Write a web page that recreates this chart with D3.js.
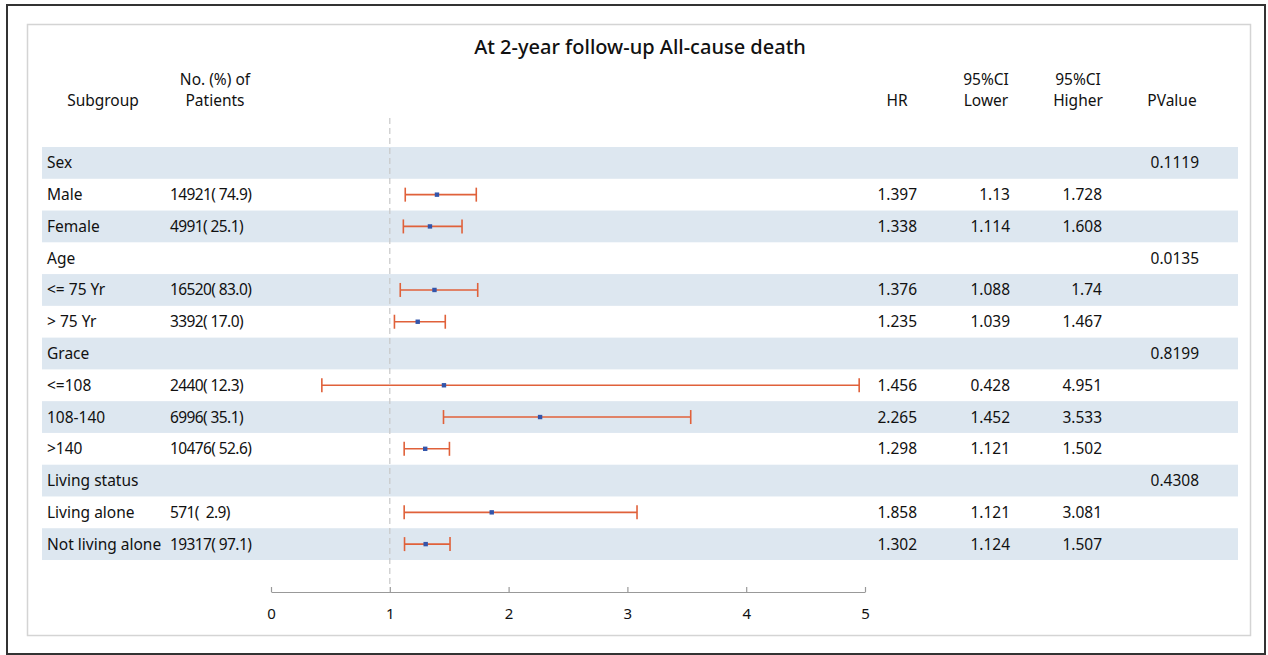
<!DOCTYPE html>
<html><head><meta charset="utf-8">
<script src="https://cdn.jsdelivr.net/npm/d3@7"></script>
<style>body{margin:0;background:#fff}svg text{font-family:"Noto Sans","Open Sans",sans-serif;fill:#111}</style>
</head><body><svg id="c" width="1268" height="655"></svg>
<script>
const title = "At 2-year follow-up All-cause death";
const subgroups = ["Sex","Male","Female","Age","<= 75 Yr","> 75 Yr","Grace","<=108","108-140",">140","Living status","Living alone","Not living alone"];
const patients = ["","14921( 74.9)","4991( 25.1)","","16520( 83.0)","3392( 17.0)","","2440( 12.3)","6996( 35.1)","10476( 52.6)","","571(  2.9)","19317( 97.1)"];
const hr =    [null,1.397,1.338,null,1.376,1.235,null,1.456,2.265,1.298,null,1.858,1.302];
const lower = [null,1.13,1.114,null,1.088,1.039,null,0.428,1.452,1.121,null,1.121,1.124];
const higher =[null,1.728,1.608,null,1.74,1.467,null,4.951,3.533,1.502,null,3.081,1.507];
const pvalues = ["0.1119","","","0.0135","","","0.8199","","","","0.4308","",""];
const xTicks = [0,1,2,3,4,5];

const svg = d3.select("#c");
// frames
svg.append("rect").attr("x",7).attr("y",5).attr("width",1258).attr("height",649).attr("fill","none").attr("stroke","#333").attr("stroke-width",2);
svg.append("rect").attr("x",27.5).attr("y",24.5).attr("width",1223).attr("height",611).attr("fill","none").attr("stroke","#d4d4d4").attr("stroke-width",1.5);

const x = d3.scaleLinear().domain([0,5]).range([271,865]);
const y = d3.scaleBand().domain(d3.range(subgroups.length)).range([147,560]);

// bands
svg.append("g").selectAll("rect").data(subgroups).join("rect")
  .attr("x",42).attr("width",1196).attr("y",(d,i)=>y(i)).attr("height",y.bandwidth())
  .attr("fill",(d,i)=>i%2===0?"#dde7f0":"none");

// title
svg.append("text").attr("x",640).attr("y",54).attr("text-anchor","middle").attr("font-size",20).attr("font-weight",500).text(title);

// headers
const hdr = (xx, lines, anchor) => {
  const t = svg.append("text").attr("x",xx).attr("text-anchor",anchor||"middle").attr("font-size",15.5);
  lines.forEach((l,k)=>t.append("tspan").attr("x",xx).attr("y",105.5-(lines.length-1-k)*20.5).text(l));
};
hdr(103,["Subgroup"]);
hdr(215,["No. (%) of","Patients"]);
hdr(897,["HR"]);
hdr(986,["95%CI","Lower"]);
hdr(1078,["95%CI","Higher"]);
hdr(1172,["PValue"]);

// reference line
svg.append("line").attr("x1",x(1)).attr("x2",x(1)).attr("y1",118).attr("y2",586)
  .attr("stroke","#c8c8c8").attr("stroke-width",1.2).attr("stroke-dasharray","6,4");

const cy = i => y(i)+y.bandwidth()/2;
const rows = svg.append("g");
subgroups.forEach((s,i)=>{
  rows.append("text").attr("x",47).attr("y",cy(i)+5.5).attr("font-size",15.5).text(s);
  rows.append("text").attr("x",170).attr("y",cy(i)+5.5).attr("font-size",15.5).attr("letter-spacing",-0.6).style("white-space","pre").text(patients[i]);
  if(hr[i]!=null){
    rows.append("text").attr("x",917).attr("y",cy(i)+5.5).attr("text-anchor","end").attr("font-size",15.5).text(hr[i]);
    rows.append("text").attr("x",1010).attr("y",cy(i)+5.5).attr("text-anchor","end").attr("font-size",15.5).text(lower[i]);
    rows.append("text").attr("x",1102).attr("y",cy(i)+5.5).attr("text-anchor","end").attr("font-size",15.5).text(higher[i]);
  }
  if(pvalues[i]) rows.append("text").attr("x",1199).attr("y",cy(i)+5.5).attr("text-anchor","end").attr("font-size",15.5).text(pvalues[i]);
});

// CI
const ci = svg.append("g").attr("stroke","#e0613a").attr("stroke-width",1.6);
subgroups.forEach((s,i)=>{
  if(hr[i]==null) return;
  const yy = cy(i);
  ci.append("line").attr("x1",x(lower[i])).attr("x2",x(higher[i])).attr("y1",yy).attr("y2",yy);
  ci.append("line").attr("x1",x(lower[i])).attr("x2",x(lower[i])).attr("y1",yy-7).attr("y2",yy+7);
  ci.append("line").attr("x1",x(higher[i])).attr("x2",x(higher[i])).attr("y1",yy-7).attr("y2",yy+7);
});
svg.append("g").selectAll("rect").data(d3.range(subgroups.length).filter(i=>hr[i]!=null)).join("rect")
  .attr("x",i=>x(hr[i])-2.2).attr("y",i=>cy(i)-2.2).attr("width",4.4).attr("height",4.4).attr("fill","#3355aa");

// axis
const ax = svg.append("g").attr("transform","translate(0,592)")
  .call(d3.axisTop(x).tickValues(xTicks).tickSize(5).tickSizeOuter(0).tickFormat(d3.format("d")));
ax.select(".domain").attr("stroke","#999").attr("stroke-width",1.2);
ax.selectAll(".tick line").attr("stroke","#999").attr("stroke-width",1.2);
ax.selectAll(".tick text").attr("y",27).attr("dy",0).attr("font-size",15).attr("fill","#111");
</script></body></html>
